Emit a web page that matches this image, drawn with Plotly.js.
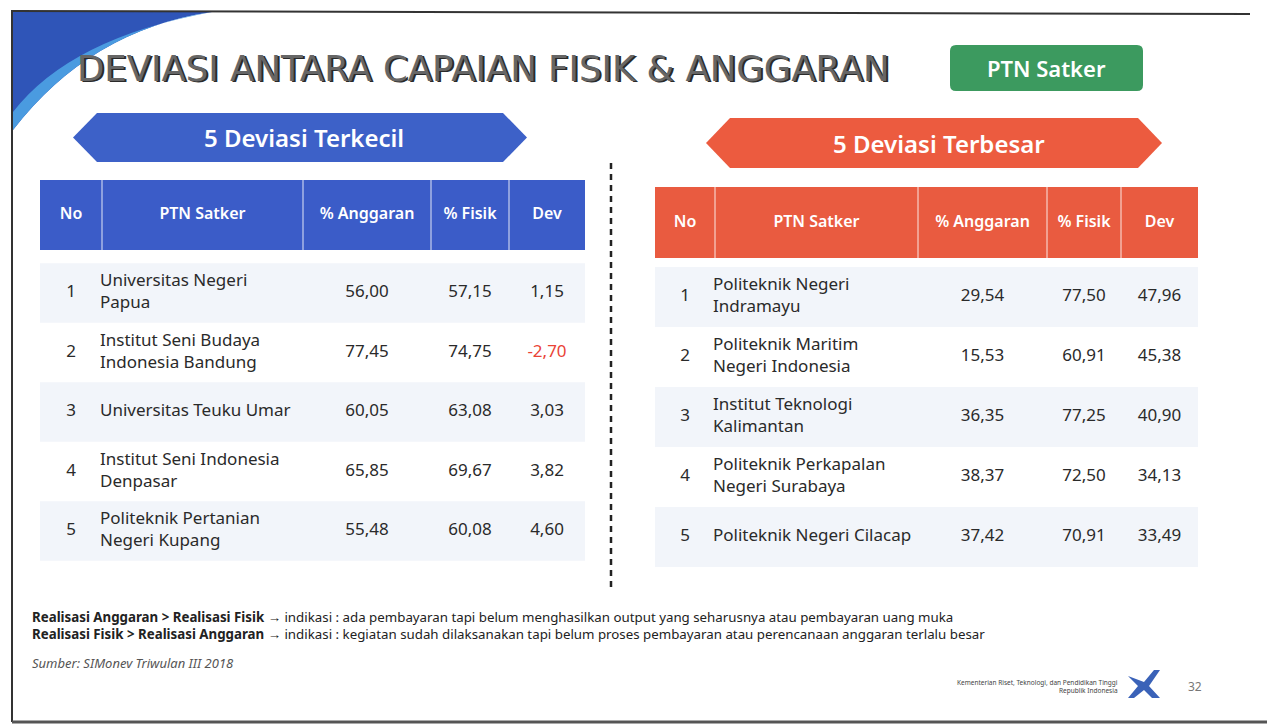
<!DOCTYPE html>
<html><head><meta charset="utf-8">
<script src="https://cdn.plot.ly/plotly-3.0.1.min.js"></script>
<style>html,body{margin:0;padding:0;background:#fff}#chart{width:1267px;height:728px}</style>
</head><body><div id="chart"></div>
<script>
// ---------- data ----------
const headers = ["No", "PTN Satker", "% Anggaran", "% Fisik", "Dev"];
const rankNo = ["1", "2", "3", "4", "5"];

const smallNames = ["Universitas Negeri<br>Papua", "Institut Seni Budaya<br>Indonesia Bandung", "Universitas Teuku Umar", "Institut Seni Indonesia<br>Denpasar", "Politeknik Pertanian<br>Negeri Kupang"];
const smallAnggaran = [56.00, 77.45, 60.05, 65.85, 55.48];
const smallFisik = [57.15, 74.75, 63.08, 69.67, 60.08];
const smallDev = [1.15, -2.70, 3.03, 3.82, 4.60];

const bigNames = ["Politeknik Negeri<br>Indramayu", "Politeknik Maritim<br>Negeri Indonesia", "Institut Teknologi<br>Kalimantan", "Politeknik Perkapalan<br>Negeri Surabaya", "Politeknik Negeri Cilacap"];
const bigAnggaran = [29.54, 15.53, 36.35, 38.37, 37.42];
const bigFisik = [77.50, 60.91, 77.25, 72.50, 70.91];
const bigDev = [47.96, 45.38, 40.90, 34.13, 33.49];

const titleText = "DEVIASI ANTARA CAPAIAN FISIK & ANGGARAN";
const badgeText = "PTN Satker";
const smallTitle = "5 Deviasi Terkecil";
const bigTitle = "5 Deviasi Terbesar";
const note1 = "<b>Realisasi Anggaran > Realisasi Fisik →</b> indikasi : ada pembayaran tapi belum menghasilkan output yang seharusnya atau pembayaran uang muka";
const note2 = "<b>Realisasi Fisik > Realisasi Anggaran →</b> indikasi : kegiatan sudah dilaksanakan tapi belum proses pembayaran atau perencanaan anggaran terlalu besar";
const sourceText = "Sumber: SIMonev Triwulan III 2018";
const ministryText = "Kementerian Riset, Teknologi, dan Pendidikan Tinggi<br>Republik Indonesia";
const pageNo = "32";

// ---------- layout / style ----------
const BODY_FONT = "Noto Sans, Open Sans, sans-serif";
const tables = [
  {names: smallNames, ang: smallAnggaran, fis: smallFisik, dev: smallDev,
   cols: [40, 102, 303, 431, 509, 585], headTop: 180, headBot: 250, row0: 293, rowStep: 59.5,
   head: "#3b5cc8", banner: {x0: 73, x1: 527, y0: 113, y1: 162, color: "#3d61c8", text: smallTitle, tx: 304}},
  {names: bigNames, ang: bigAnggaran, fis: bigFisik, dev: bigDev,
   cols: [655, 715, 918, 1047, 1121, 1198], headTop: 187, headBot: 258, row0: 297, rowStep: 60,
   head: "#e95b40", banner: {x0: 706, x1: 1162, y0: 118, y1: 168, color: "#ec5b3f", text: bigTitle, tx: 939}}
];
const fmt = v => v.toFixed(2).replace('.', ',');

const traces = [];
const shapes = [];
const annotations = [];

tables.forEach(t => {
  const c = t.cols;
  const centers = c.slice(0, -1).map((v, i) => (v + c[i + 1]) / 2);
  const rowsY = rankNo.map((_, i) => t.row0 + i * t.rowStep);
  // banner
  const b = t.banner, tip = 24, ym = (b.y0 + b.y1) / 2;
  shapes.push({type: 'path', xref: 'x', yref: 'y', layer: 'below',
    path: `M ${b.x0} ${ym} L ${b.x0 + tip} ${b.y0} L ${b.x1 - tip} ${b.y0} L ${b.x1} ${ym} L ${b.x1 - tip} ${b.y1} L ${b.x0 + tip} ${b.y1} Z`,
    fillcolor: b.color, line: {width: 0}});
  annotations.push({x: b.tx, y: ym, xref: 'x', yref: 'y', text: b.text, showarrow: false,
    font: {family: BODY_FONT, size: 24, color: '#ffffff', weight: 600}});
  // stripes
  rowsY.forEach((y, i) => {
    if (i % 2 === 0) shapes.push({type: 'rect', xref: 'x', yref: 'y', layer: 'below',
      x0: c[0], x1: c[c.length - 1], y0: y - t.rowStep / 2, y1: y + t.rowStep / 2,
      fillcolor: '#f2f5fa', line: {width: 0}});
  });
  // header
  shapes.push({type: 'rect', xref: 'x', yref: 'y', layer: 'below', x0: c[0], x1: c[c.length - 1],
    y0: t.headTop, y1: t.headBot, fillcolor: t.head, line: {width: 0}});
  c.slice(1, -1).forEach(x => shapes.push({type: 'line', xref: 'x', yref: 'y', x0: x, x1: x,
    y0: t.headTop, y1: t.headBot, line: {color: 'rgba(255,255,255,0.85)', width: 1}}));
  const hy = (t.headTop + t.headBot) / 2;
  traces.push({type: 'scatter', mode: 'text', x: centers, y: headers.map(() => hy), text: headers,
    textposition: 'middle center', textfont: {family: BODY_FONT, size: 16, color: '#ffffff', weight: 600},
    hoverinfo: 'skip', showlegend: false});
  // body
  const common = {type: 'scatter', mode: 'text', hoverinfo: 'skip', showlegend: false, y: rowsY};
  traces.push(Object.assign({}, common, {x: rankNo.map(() => centers[0]), text: rankNo,
    textposition: 'middle center', textfont: {family: BODY_FONT, size: 17, color: '#2a2a2a'}}));
  traces.push(Object.assign({}, common, {x: rankNo.map(() => c[1] - 2), text: t.names,
    textposition: 'middle right', textfont: {family: BODY_FONT, size: 17, color: '#2a2a2a'}}));
  traces.push(Object.assign({}, common, {x: rankNo.map(() => centers[2]), text: t.ang.map(fmt),
    textposition: 'middle center', textfont: {family: BODY_FONT, size: 17, color: '#2a2a2a'}}));
  traces.push(Object.assign({}, common, {x: rankNo.map(() => centers[3]), text: t.fis.map(fmt),
    textposition: 'middle center', textfont: {family: BODY_FONT, size: 17, color: '#2a2a2a'}}));
  traces.push(Object.assign({}, common, {x: rankNo.map(() => centers[4]), text: t.dev.map(fmt),
    textposition: 'middle center', textfont: {family: BODY_FONT, size: 17,
      color: t.dev.map(v => v < 0 ? '#ea4336' : '#2a2a2a')}}));
});

// frame and decorations
shapes.push({type: 'line', xref: 'x', yref: 'y', x0: 12, x1: 1250, y0: 11, y1: 14, line: {color: '#333', width: 2}});
shapes.push({type: 'line', xref: 'x', yref: 'y', x0: 12, x1: 12, y0: 10, y1: 722, line: {color: '#333', width: 2}});
shapes.push({type: 'line', xref: 'x', yref: 'y', x0: 12, x1: 1267, y0: 722, y1: 722, line: {color: '#555', width: 3}});
shapes.push({type: 'path', xref: 'x', yref: 'y', path: 'M 13 12 L 212 12 Q 90 30 13 130 Z', fillcolor: '#2f55b8', line: {width: 0}, layer: 'below'});
shapes.push({type: 'path', xref: 'x', yref: 'y', path: 'M 212 12 Q 90 30 13 130 L 13 112 Q 70 38 212 12 Z', fillcolor: '#4a9be0', line: {width: 0}, layer: 'below'});
shapes.push({type: 'line', xref: 'x', yref: 'y', x0: 611, x1: 611, y0: 163, y1: 590, line: {color: '#222', width: 2.5, dash: '6px,5px'}});
// badge
shapes.push({type: 'path', xref: 'x', yref: 'y', layer: 'below',
  path: 'M 956 45 L 1137 45 Q 1143 45 1143 51 L 1143 85 Q 1143 91 1137 91 L 956 91 Q 950 91 950 85 L 950 51 Q 950 45 956 45 Z',
  fillcolor: '#3c9a5f', line: {width: 0}});
// logo
shapes.push({type: 'path', xref: 'x', yref: 'y', path: 'M 1128 676 L 1138 686 L 1128 698 L 1134 698 L 1144 690 L 1152 698 L 1160 698 L 1149 686 L 1160 670 L 1154 670 L 1144 682 Z', fillcolor: '#3a62b8', line: {width: 0}});

// titles & notes
annotations.push({x: 76.5, y: 69.5, xref: 'x', yref: 'y', xanchor: 'left', text: titleText, showarrow: false,
  font: {family: 'DejaVu Sans, sans-serif', size: 35.5, color: '#2a2a2a', weight: 400}});
annotations.push({x: 75, y: 68, xref: 'x', yref: 'y', xanchor: 'left', text: titleText, showarrow: false,
  font: {family: 'DejaVu Sans, sans-serif', size: 35.5, color: '#666666', weight: 400}});
annotations.push({x: 1046, y: 68, xref: 'x', yref: 'y', text: badgeText, showarrow: false,
  font: {family: BODY_FONT, size: 22, color: '#ffffff', weight: 600}});
annotations.push({x: 30, y: 617, xref: 'x', yref: 'y', xanchor: 'left', text: note1, showarrow: false,
  font: {family: 'Noto Sans, sans-serif', size: 13.3, color: '#222'}});
annotations.push({x: 30, y: 634, xref: 'x', yref: 'y', xanchor: 'left', text: note2, showarrow: false,
  font: {family: 'Noto Sans, sans-serif', size: 13.3, color: '#222'}});
annotations.push({x: 30, y: 663, xref: 'x', yref: 'y', xanchor: 'left', text: '<i>' + sourceText + '</i>', showarrow: false,
  font: {family: BODY_FONT, size: 13, color: '#555'}});
annotations.push({x: 1120, y: 686, xref: 'x', yref: 'y', xanchor: 'right', align: 'right', text: ministryText, showarrow: false,
  font: {family: BODY_FONT, size: 6.5, color: '#444'}});
annotations.push({x: 1195, y: 686, xref: 'x', yref: 'y', text: pageNo, showarrow: false,
  font: {family: BODY_FONT, size: 12, color: '#777'}});

const layout = {
  width: 1267, height: 728, margin: {l: 0, r: 0, t: 0, b: 0},
  paper_bgcolor: '#ffffff', plot_bgcolor: '#ffffff',
  xaxis: {range: [0, 1267], visible: false, fixedrange: true},
  yaxis: {range: [728, 0], visible: false, fixedrange: true},
  shapes, annotations, showlegend: false
};
Plotly.newPlot('chart', traces, layout, {displayModeBar: false, staticPlot: true});
</script></body></html>
